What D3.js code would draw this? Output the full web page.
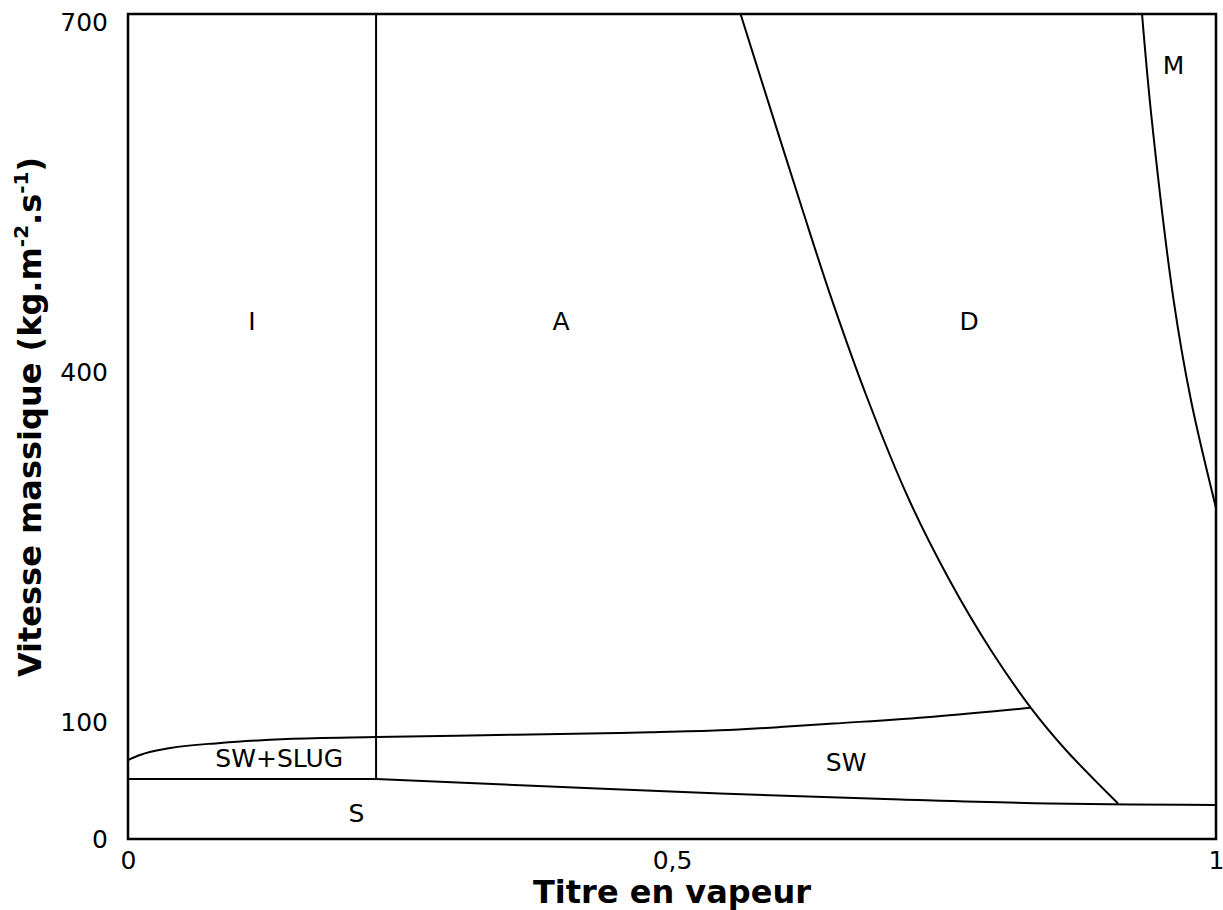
<!DOCTYPE html>
<html>
<head>
<meta charset="utf-8">
<script src="https://cdn.jsdelivr.net/npm/d3@7/dist/d3.min.js"></script>
<style>
  html, body { margin: 0; padding: 0; background: #fff; }
  svg { display: block; }
  text { font-family: "DejaVu Sans", Verdana, sans-serif; fill: #000; }
</style>
</head>
<body>
<svg id="chart" width="1223" height="910"></svg>
<script>
// Flow pattern map: vapour quality vs. mass velocity

// Axis ticks
const xTicks = [0, 0.5, 1];
const xTickLabels = ["0", "0,5", "1"];
const yTicks = [0, 100, 400, 700];

// Stratified-wavy / intermittent+annular boundary
const wavyX = [0, 0.011, 0.039, 0.085, 0.146, 0.228, 0.339, 0.437, 0.480, 0.544, 0.599, 0.648, 0.740, 0.829];
const wavyG = [67.7, 72, 78, 82.3, 85.7, 87.4, 89.1, 90.6, 91.4, 93.1, 95.9, 98.9, 104.8, 112.4];

// Floor of the SW+SLUG zone
const slugFloorX = [0, 0.228];
const slugFloorG = [51.4, 51.4];

// Stratified / stratified-wavy boundary
const stratX = [0.228, 0.388, 0.544, 0.710, 0.847, 0.921, 1];
const stratG = [51.4, 45.0, 39.0, 33.8, 30.4, 29.6, 29.1];

// Dryout boundary
const dryX = [0.563, 0.588, 0.620, 0.647, 0.679, 0.718, 0.755, 0.793, 0.830, 0.862, 0.910];
const dryG = [707, 633, 539, 462, 379, 290.5, 222, 162, 112.2, 76.3, 30.4];

// Mist boundary
const mistX = [0.932, 0.941, 0.961, 0.977, 1.0];
const mistG = [707, 616, 462, 376, 283.7];

// Intermittent / annular transition quality
const transX = 0.228;
const transG = [51.4, 707];

// Regime labels
const regimeNames = ["I", "A", "D", "M", "SW+SLUG", "SW", "S"];
const regimeX = [0.114, 0.398, 0.773, 0.961, 0.139, 0.660, 0.210];
const regimeG = [444, 444, 444, 663, 69.4, 66, 22.3];

const svg = d3.select("#chart");
const plotLeft = 128, plotRight = 1216, plotTop = 14, plotBottom = 839;

const x = d3.scaleLinear().domain([0, 1]).range([plotLeft, plotRight]);
const y = d3.scaleLinear().domain([0, 707]).range([plotBottom, plotTop]);

svg.append("defs").append("clipPath").attr("id", "plotClip")
  .append("rect").attr("x", plotLeft).attr("y", plotTop)
  .attr("width", plotRight - plotLeft).attr("height", plotBottom - plotTop);

const plot = svg.append("g").attr("clip-path", "url(#plotClip)");

// Near-horizontal boundaries are interpolated along x, steep ones parametrically
const lineX = d3.line().x(d => x(d[0])).y(d => y(d[1])).curve(d3.curveMonotoneX);
const lineSteep = d3.line().x(d => x(d[0])).y(d => y(d[1])).curve(d3.curveCatmullRom.alpha(0.5));
const lineStraight = d3.line().x(d => x(d[0])).y(d => y(d[1]));

const curves = [
  [wavyX, wavyG, lineX],
  [slugFloorX, slugFloorG, lineStraight],
  [stratX, stratG, lineX],
  [dryX, dryG, lineSteep],
  [mistX, mistG, lineSteep]
];

curves.forEach(([xs, gs, gen]) => {
  plot.append("path")
    .datum(xs.map((v, i) => [v, gs[i]]))
    .attr("d", gen)
    .attr("fill", "none")
    .attr("stroke", "#000")
    .attr("stroke-width", 2);
});

plot.append("line")
  .attr("x1", x(transX)).attr("x2", x(transX))
  .attr("y1", y(transG[0])).attr("y2", y(transG[1]))
  .attr("stroke", "#000").attr("stroke-width", 2);

// Frame
svg.append("rect")
  .attr("x", plotLeft).attr("y", plotTop)
  .attr("width", plotRight - plotLeft).attr("height", plotBottom - plotTop)
  .attr("fill", "none").attr("stroke", "#000").attr("stroke-width", 2.5);

// Axes (labels only)
const xAxis = d3.axisBottom(x)
  .tickValues(xTicks)
  .tickFormat((d, i) => xTickLabels[i])
  .tickSize(0).tickPadding(12);
const gx = svg.append("g").attr("transform", `translate(0,${plotBottom})`).call(xAxis);
gx.select(".domain").remove();
gx.selectAll("text").attr("font-size", 25).attr("font-family", "DejaVu Sans");

const yAxis = d3.axisLeft(y)
  .tickValues(yTicks)
  .tickFormat(d3.format("d"))
  .tickSize(0).tickPadding(20);
const gy = svg.append("g").attr("transform", `translate(${plotLeft},0)`).call(yAxis);
gy.select(".domain").remove();
gy.selectAll("text").attr("font-size", 25).attr("font-family", "DejaVu Sans");

// Regime labels
svg.append("g").selectAll("text")
  .data(regimeNames)
  .join("text")
  .attr("x", (d, i) => x(regimeX[i]))
  .attr("y", (d, i) => y(regimeG[i]))
  .attr("dy", "0.36em")
  .attr("text-anchor", "middle")
  .attr("font-size", 25)
  .text(d => d);

// Axis titles
svg.append("text")
  .attr("x", (plotLeft + plotRight) / 2)
  .attr("y", 903)
  .attr("text-anchor", "middle")
  .attr("font-size", 32)
  .attr("font-weight", "bold")
  .text("Titre en vapeur");

const yTitle = svg.append("text")
  .attr("transform", "translate(41,417) rotate(-90)")
  .attr("text-anchor", "middle")
  .attr("font-size", 32)
  .attr("font-weight", "bold");
yTitle.append("tspan").text("Vitesse massique (kg.m");
yTitle.append("tspan").attr("font-size", 20).attr("dy", -13).text("-2");
yTitle.append("tspan").attr("dy", 13).text(".s");
yTitle.append("tspan").attr("font-size", 20).attr("dy", -13).text("-1");
yTitle.append("tspan").attr("dy", 13).text(")");
</script>
</body>
</html>
